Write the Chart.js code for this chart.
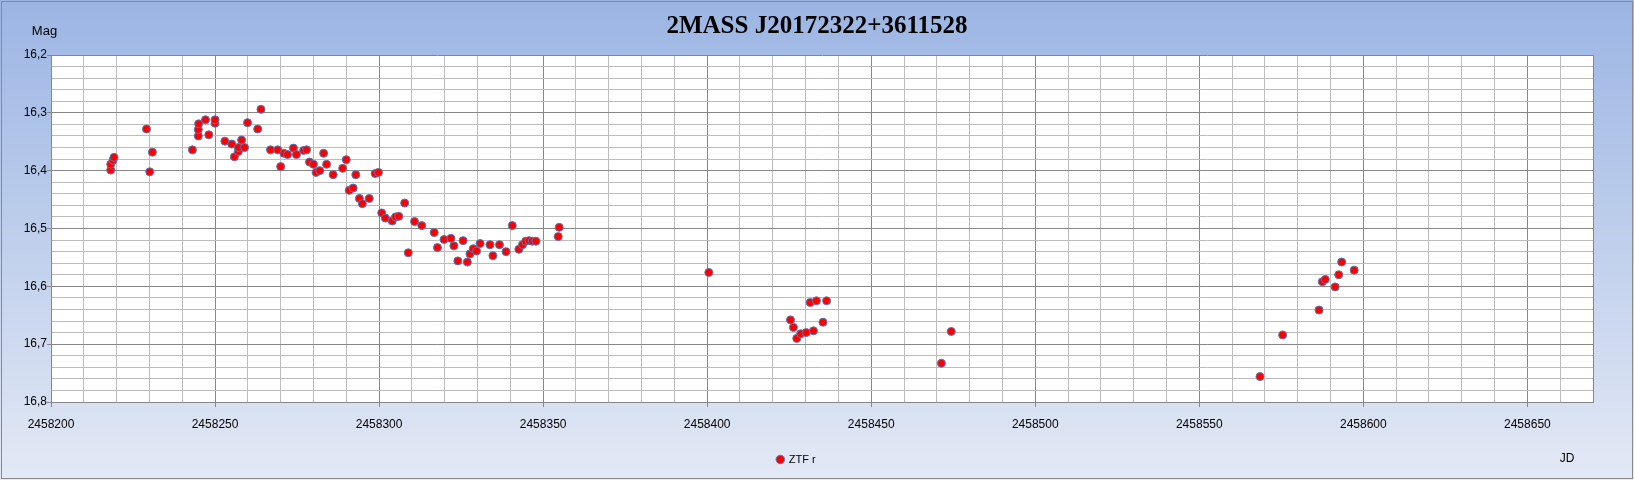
<!DOCTYPE html>
<html>
<head>
<meta charset="utf-8">
<script src="https://cdn.jsdelivr.net/npm/chart.js"></script>
<style>
  html, body { margin: 0; padding: 0; background: #fff; }
  #wrap { width: 1634px; height: 480px; }
</style>
</head>
<body>
<div id="wrap"><canvas id="lightCurve" width="1634" height="480"></canvas></div>
<script>
// ZTF r photometry of 2MASS J20172322+3611528
const jdValues = [
    2458218.2, 2458218.2, 2458218.9, 2458219.2, 2458229.1, 2458230.1, 2458230.9,
    2458243.1, 2458244.9, 2458244.9, 2458245.0, 2458247.1, 2458248.1, 2458250.0, 2458250.0,
    2458253.0, 2458255.1, 2458255.9, 2458257.1, 2458257.1, 2458258.1, 2458259.0, 2458259.9,
    2458263.0, 2458264.0, 2458266.9, 2458269.1, 2458270.0, 2458271.0, 2458272.1, 2458273.9,
    2458274.8, 2458277.0, 2458277.9, 2458278.8, 2458280.0, 2458280.8, 2458281.9, 2458283.1,
    2458284.0, 2458286.0, 2458288.9, 2458290.0, 2458292.9, 2458290.9, 2458292.1, 2458294.0,
    2458294.9, 2458297.0, 2458298.8, 2458299.8, 2458300.8, 2458301.9, 2458304.0, 2458305.0,
    2458306.0, 2458307.8, 2458308.9, 2458310.8, 2458313.0, 2458316.8, 2458317.8, 2458319.8,
    2458321.9, 2458322.8, 2458324.0, 2458325.6, 2458326.9, 2458327.7, 2458328.7, 2458329.7,
    2458330.8, 2458333.8, 2458334.7, 2458336.7, 2458338.7, 2458340.6, 2458342.6, 2458343.7,
    2458344.7, 2458345.7, 2458346.7, 2458347.8, 2458354.9, 2458354.6,
    2458400.5,
    2458425.4, 2458426.3, 2458427.3, 2458428.5, 2458430.2, 2458432.4, 2458435.3, 2458431.4,
    2458433.3, 2458436.4,
    2458471.4, 2458474.4,
    2458568.5, 2458575.4, 2458586.5, 2458587.5, 2458588.4, 2458591.4, 2458592.5, 2458593.4,
    2458597.2
];
const magValues = [
    16.399, 16.389, 16.382, 16.377, 16.328, 16.402, 16.368,
    16.364, 16.340, 16.329, 16.319, 16.312, 16.338, 16.318, 16.312,
    16.349, 16.354, 16.376, 16.367, 16.360, 16.347, 16.360, 16.317,
    16.328, 16.294, 16.364, 16.364, 16.393, 16.370, 16.372, 16.361,
    16.372, 16.365, 16.364, 16.385, 16.389, 16.403, 16.400, 16.370,
    16.389, 16.407, 16.396, 16.381, 16.407, 16.434, 16.430, 16.448,
    16.457, 16.448, 16.405, 16.403, 16.473, 16.482, 16.487, 16.480,
    16.479, 16.456, 16.542, 16.488, 16.495, 16.507, 16.533, 16.519,
    16.517, 16.530, 16.556, 16.521, 16.558, 16.544, 16.535, 16.539,
    16.526, 16.528, 16.547, 16.528, 16.540, 16.495, 16.536, 16.528,
    16.522, 16.521, 16.522, 16.522, 16.498, 16.514,
    16.576,
    16.658, 16.671, 16.690, 16.682, 16.680, 16.677, 16.662, 16.628,
    16.625, 16.625,
    16.733, 16.678,
    16.756, 16.684, 16.641, 16.592, 16.588, 16.601, 16.580, 16.558,
    16.572
];

const seriesName = "ZTF r";
const chartTitle = "2MASS J20172322+3611528";
const xAxisName = "JD";
const yAxisName = "Mag";

const xMin = 2458200, xMax = 2458670, xMinor = 10, xMajor = 50;
const yMin = 16.2, yMax = 16.8, yMinor = 0.02;
const yTickLabels = ["16,2", "16,3", "16,4", "16,5", "16,6", "16,7", "16,8"];

const points = jdValues.map((x, i) => ({ x: x, y: magValues[i] }));

const majorLine = '#878787';
const minorLine = '#bcbcbc';
const labelFont = "'Liberation Sans', Arial, sans-serif";

function isMajorX(v) { return Math.round(v) % xMajor === 0; }
function majorYIndex(v) {
    const k = Math.round((v - yMin) * 100);
    return k % 10 === 0 ? k / 10 : -1;
}

// background, plot fill, title and axis names
const decoration = {
    id: 'decoration',
    beforeDraw(chart) {
        const c = chart.ctx, a = chart.chartArea;
        c.save();
        const g = c.createLinearGradient(0, 0, 0, chart.height);
        g.addColorStop(0, '#9bb5e3');
        g.addColorStop(1, '#e3e9f5');
        c.fillStyle = g;
        c.fillRect(0, 0, chart.width, chart.height);
        c.fillStyle = '#ffffff';
        c.fillRect(a.left, a.top, a.right - a.left, a.bottom - a.top);
        c.restore();
    },
    afterDraw(chart) {
        const c = chart.ctx;
        c.save();
        c.fillStyle = '#000';
        c.textAlign = 'center';
        c.textBaseline = 'middle';
        c.font = "bold 25px 'Liberation Serif', 'Times New Roman', serif";
        c.fillText(chartTitle, 817, 27);
        c.font = "13px " + labelFont;
        c.fillText(yAxisName, 44.5, 31);
        c.font = "12px " + labelFont;
        c.fillText(xAxisName, 1567, 459);
        c.strokeStyle = '#8a8a8a';
        c.lineWidth = 1;
        c.strokeRect(1.5, 1.5, chart.width - 3, chart.height - 3);
        c.restore();
    }
};

const ctx = document.getElementById('lightCurve').getContext('2d');
new Chart(ctx, {
    type: 'scatter',
    data: {
        datasets: [{
            label: seriesName,
            data: points,
            backgroundColor: '#ff0000',
            borderColor: '#5079b8',
            borderWidth: 1,
            pointRadius: 4,
            pointHoverRadius: 4
        }]
    },
    options: {
        responsive: false,
        animation: false,
        layout: { padding: { left: 0, top: 55, right: 41, bottom: 5 } },
        plugins: {
            legend: {
                position: 'bottom',
                labels: {
                    usePointStyle: true,
                    pointStyle: 'circle',
                    boxWidth: 6,
                    boxHeight: 6,
                    color: '#000',
                    font: { family: labelFont, size: 11 }
                }
            },
            tooltip: { enabled: false },
            title: { display: false }
        },
        scales: {
            x: {
                type: 'linear',
                min: xMin,
                max: xMax,
                afterFit: s => { s.height = 42; },
                ticks: {
                    stepSize: xMinor,
                    autoSkip: false,
                    maxRotation: 0,
                    padding: 10,
                    color: '#000',
                    font: { family: labelFont, size: 12 },
                    callback: v => isMajorX(v) ? String(v) : ''
                },
                grid: {
                    tickLength: 5,
                    color: c => (c.tick && (isMajorX(c.tick.value) || c.tick.value === xMax)) ? majorLine : minorLine,
                    tickColor: c => (c.tick && isMajorX(c.tick.value)) ? majorLine : 'rgba(0,0,0,0)'
                },
                border: { color: majorLine }
            },
            y: {
                reverse: true,
                min: yMin,
                max: yMax,
                afterFit: s => { s.width = 51; },
                ticks: {
                    stepSize: yMinor,
                    autoSkip: false,
                    padding: 0,
                    color: '#000',
                    font: { family: labelFont, size: 12 },
                    callback: v => {
                        const k = majorYIndex(v);
                        return k >= 0 ? yTickLabels[k] : '';
                    }
                },
                grid: {
                    tickLength: 4,
                    color: c => (c.tick && majorYIndex(c.tick.value) >= 0) ? majorLine : minorLine,
                    tickColor: c => (c.tick && majorYIndex(c.tick.value) >= 0) ? majorLine : 'rgba(0,0,0,0)'
                },
                border: { color: majorLine }
            }
        }
    },
    plugins: [decoration]
});
</script>
</body>
</html>
